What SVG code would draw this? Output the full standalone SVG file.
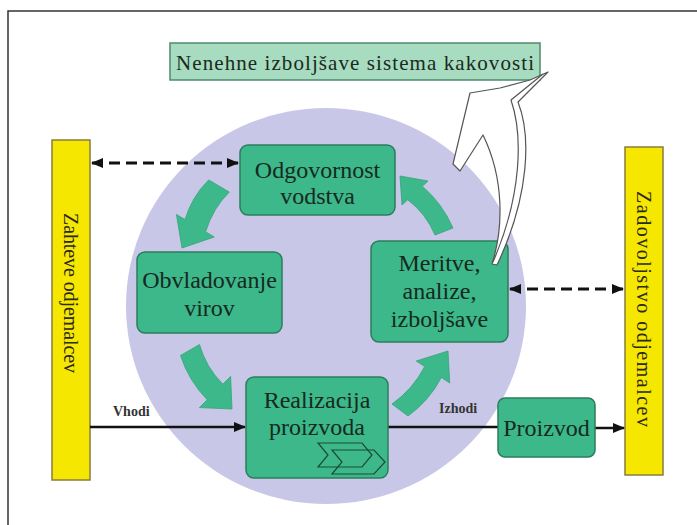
<svg xmlns="http://www.w3.org/2000/svg" width="697" height="525" viewBox="0 0 697 525">
  <defs>
    <style>
      text { font-family: 'Liberation Serif', 'DejaVu Serif', 'Times New Roman', serif; }
      .node { fill: #3cb88a; stroke: #2a7d5c; stroke-width: 1.5; }
      .ntext { font-size: 24px; fill: #16291f; text-anchor: middle; }
      .bar { fill: #f6e700; stroke: #8a7d3a; stroke-width: 1.5; }
      .btext { font-size: 20px; fill: #2a2a1a; text-anchor: middle; }
      .garrow { fill: #3cb88a; stroke: #34a57b; stroke-width: 0.8; }
      .dash { stroke: #111; stroke-width: 3; stroke-dasharray: 11 6; fill: none; }
      .solid { stroke: #111; stroke-width: 2.5; fill: none; }
      .small { font-size: 14px; font-weight: bold; fill: #333; }
    </style>
    <marker id="ah" markerUnits="userSpaceOnUse" markerWidth="12" markerHeight="10" refX="11" refY="5" orient="auto-start-reverse">
      <path d="M0,0 L12,5 L0,10 Z" fill="#111"/>
    </marker>
  </defs>

  <rect x="8" y="11" width="720" height="540" fill="#ffffff" stroke="#333" stroke-width="1.5"/>

  <ellipse id="cycle" cx="326" cy="306" rx="200" ry="198" fill="#c9c7e7"/>

  <g id="top-box">
    <rect x="170" y="43" width="370" height="37" fill="#a7dcc1" stroke="#4d8a6c" stroke-width="1.5"/>
    <text x="355" y="70" font-size="21" fill="#1a2a20" text-anchor="middle" textLength="358" lengthAdjust="spacing">Nenehne izboljšave sistema kakovosti</text>
  </g>

  <g id="zahteve">
    <rect class="bar" x="52" y="140" width="38" height="340"/>
    <text class="btext" transform="translate(71,293) rotate(90)" x="0" y="7" textLength="160" lengthAdjust="spacing">Zahteve odjemalcev</text>
  </g>

  <g id="zadovoljstvo">
    <rect class="bar" x="625" y="147" width="38" height="328"/>
    <text class="btext" transform="translate(644,309) rotate(90)" x="0" y="7" textLength="236" lengthAdjust="spacing">Zadovoljstvo odjemalcev</text>
  </g>

  <g id="cycle-arrows">
    <path class="garrow" d="M208.7,179.9 L229.3,192.1 Q213,208 205.6,231.8 L214.2,237 L182,248 L176.4,214.4 L185,219.6 Q192.2,196 208.7,179.9 Z"/>
    <path class="garrow" d="M180.5,355.5 L199.5,344.5 Q205.9,367.2 222.8,384.2 L230.6,376.4 L232,409 L199.4,407.6 L207.2,399.8 Q188.6,380.6 180.5,355.5 Z"/>
    <path class="garrow" d="M392,404 L408,416 Q429.1,400.9 441.4,377.5 L449.7,383 L448,351 L416.3,361 L424.7,366.5 Q412.7,389.5 392,404 Z"/>
    <path class="garrow" d="M435,235 Q425.8,213.3 407.7,199.8 L402,205 L400,176 L428,181 L422.3,186.2 Q442.1,203.1 453,228 Z"/>
  </g>

  <g id="connectors">
    <line class="dash" x1="92" y1="163" x2="238" y2="163" marker-start="url(#ah)" marker-end="url(#ah)"/>
    <line class="dash" x1="510" y1="289" x2="623" y2="289" marker-start="url(#ah)" marker-end="url(#ah)"/>
    <line class="solid" x1="90" y1="427" x2="245" y2="427" marker-end="url(#ah)"/>
    <line class="solid" x1="388" y1="427" x2="498" y2="427"/>
    <line class="solid" x1="595" y1="428" x2="624" y2="428" marker-end="url(#ah)"/>
    <text class="small" x="113" y="416">Vhodi</text>
    <text class="small" x="439" y="413">Izhodi</text>
  </g>

  <g id="odgovornost">
    <rect class="node" x="240" y="145" width="155" height="70" rx="8"/>
    <text class="ntext" x="317.5" y="178">Odgovornost</text>
    <text class="ntext" x="317.5" y="204">vodstva</text>
  </g>

  <g id="obvladovanje">
    <rect class="node" x="137" y="252" width="145" height="81" rx="8"/>
    <text class="ntext" x="209.5" y="288">Obvladovanje</text>
    <text class="ntext" x="209.5" y="316">virov</text>
  </g>

  <g id="meritve">
    <rect class="node" x="371" y="241" width="137" height="101" rx="8"/>
    <text class="ntext" x="439.5" y="271">Meritve,</text>
    <text class="ntext" x="439.5" y="299">analize,</text>
    <text class="ntext" x="439.5" y="327">izboljšave</text>
  </g>

  <g id="realizacija">
    <rect class="node" x="246" y="377" width="142" height="101" rx="8"/>
    <text class="ntext" x="317" y="408">Realizacija</text>
    <text class="ntext" x="317" y="435">proizvoda</text>
    <g fill="none" stroke="#1d4a35" stroke-width="1.2">
      <polygon points="318,443 362,443 372,455 362,467 318,467 328,455"/>
      <polygon points="332,450 374,450 385,462 374,474 332,474 342,462"/>
    </g>
  </g>

  <g id="proizvod">
    <rect class="node" x="498" y="398" width="97" height="59" rx="7"/>
    <text class="ntext" x="546.5" y="436">Proizvod</text>
  </g>

  <g id="improvement-arrow" fill="#ffffff" stroke="#555" stroke-width="1.2" stroke-linejoin="round">
    <path d="M492,264 C503,230 505,180 483,135 L460,171 L453,164 L470,93 L500,88 L530,80 L548,72 L518,102 C531,135 530,195 497,265 Z"/>
    <path d="M543,74 L511,100 C523,135 522,195 493,262" fill="none"/>
  </g>
</svg>
